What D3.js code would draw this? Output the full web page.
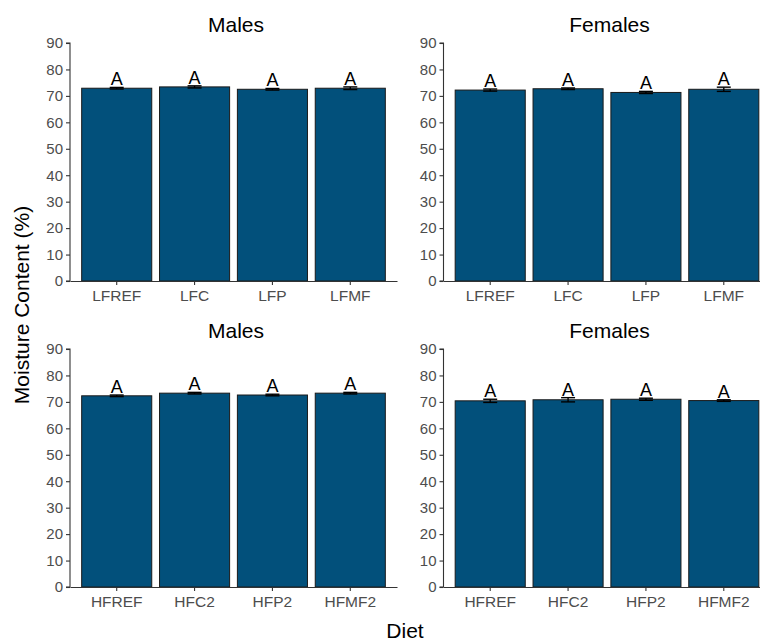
<!DOCTYPE html>
<html>
<head>
<meta charset="utf-8">
<script src="https://cdn.jsdelivr.net/npm/d3@7"></script>
<style>
  html, body { margin: 0; padding: 0; background: #fff; }
  svg { display: block; font-family: "Liberation Sans", Arial, sans-serif; }
</style>
</head>
<body>
<svg id="chart" width="760" height="642"></svg>
<script>
// Diet groups shown in each row of panels
const lowFatDiets  = ["LFREF", "LFC", "LFP", "LFMF"];
const highFatDiets = ["HFREF", "HFC2", "HFP2", "HFMF2"];

// Mean moisture content (%) and standard errors
const maleLowMeans    = [72.9, 73.4, 72.5, 72.9];
const maleLowSE       = [0.3, 0.4, 0.3, 0.5];
const femaleLowMeans  = [72.2, 72.7, 71.3, 72.5];
const femaleLowSE     = [0.4, 0.3, 0.4, 0.8];
const maleHighMeans   = [72.3, 73.3, 72.6, 73.3];
const maleHighSE      = [0.3, 0.3, 0.3, 0.3];
const femaleHighMeans = [70.4, 70.8, 71.0, 70.5];
const femaleHighSE    = [0.6, 0.8, 0.4, 0.3];

// Significance letters
const maleLowLetters    = ["A", "A", "A", "A"];
const femaleLowLetters  = ["A", "A", "A", "A"];
const maleHighLetters   = ["A", "A", "A", "A"];
const femaleHighLetters = ["A", "A", "A", "A"];

const yTicks = [0, 10, 20, 30, 40, 50, 60, 70, 80, 90];
const panelTitles = ["Males", "Females", "Males", "Females"];

const panels = [
  { title: panelTitles[0], diets: lowFatDiets,  means: maleLowMeans,    se: maleLowSE,    letters: maleLowLetters,    left: 70,    top: 43,  bottom: 281 },
  { title: panelTitles[1], diets: lowFatDiets,  means: femaleLowMeans,  se: femaleLowSE,  letters: femaleLowLetters,  left: 443.5, top: 43,  bottom: 281 },
  { title: panelTitles[2], diets: highFatDiets, means: maleHighMeans,   se: maleHighSE,   letters: maleHighLetters,   left: 70,    top: 349, bottom: 587 },
  { title: panelTitles[3], diets: highFatDiets, means: femaleHighMeans, se: femaleHighSE, letters: femaleHighLetters, left: 443.5, top: 349, bottom: 587 }
];

const svg = d3.select("#chart");
const panelWidth = 327;
const barFill = "#02507b";
const tickGrey = "#4d4d4d";

panels.forEach(p => {
  const rows = p.diets.map((d, i) => ({ diet: d, mean: p.means[i], se: p.se[i], letter: p.letters[i] }));

  const x = d3.scaleBand()
    .domain(p.diets)
    .range([p.left, p.left + panelWidth])
    .paddingInner(0.1)
    .paddingOuter(0.15);

  const y = d3.scaleLinear().domain([0, 90]).range([p.bottom, p.top]);

  const g = svg.append("g");

  // bars
  g.selectAll("rect.bar").data(rows).join("rect")
    .attr("class", "bar")
    .attr("x", d => x(d.diet))
    .attr("y", d => y(d.mean))
    .attr("width", x.bandwidth())
    .attr("height", d => y(0) - y(d.mean))
    .attr("fill", barFill)
    .attr("stroke", "#1a1a1a")
    .attr("stroke-width", 1);

  // error bars
  const cap = 7;
  const eb = g.selectAll("g.err").data(rows).join("g").attr("class", "err")
    .attr("stroke", "#000").attr("stroke-width", 1.4).attr("fill", "none");
  eb.append("line")
    .attr("x1", d => x(d.diet) + x.bandwidth() / 2)
    .attr("x2", d => x(d.diet) + x.bandwidth() / 2)
    .attr("y1", d => y(d.mean - d.se))
    .attr("y2", d => y(d.mean + d.se));
  eb.append("line")
    .attr("x1", d => x(d.diet) + x.bandwidth() / 2 - cap)
    .attr("x2", d => x(d.diet) + x.bandwidth() / 2 + cap)
    .attr("y1", d => y(d.mean + d.se))
    .attr("y2", d => y(d.mean + d.se));
  eb.append("line")
    .attr("x1", d => x(d.diet) + x.bandwidth() / 2 - cap)
    .attr("x2", d => x(d.diet) + x.bandwidth() / 2 + cap)
    .attr("y1", d => y(d.mean - d.se))
    .attr("y2", d => y(d.mean - d.se));

  // letters
  g.selectAll("text.letter").data(rows).join("text")
    .attr("class", "letter")
    .attr("x", d => x(d.diet) + x.bandwidth() / 2)
    .attr("y", d => y(d.mean + d.se) - 2)
    .attr("text-anchor", "middle")
    .attr("font-size", 18)
    .attr("fill", "#000")
    .text(d => d.letter);

  // y axis
  const yAxis = g.append("g")
    .attr("transform", `translate(${p.left},0)`)
    .call(d3.axisLeft(y).tickValues(yTicks).tickSize(4).tickPadding(3));
  yAxis.select(".domain").attr("stroke", "#333").attr("stroke-width", 1.1).attr("d", `M-4,${y(90)}H0V${y(0)}H-4`);
  yAxis.selectAll(".tick line").attr("stroke", "#333").attr("stroke-width", 1.1);
  yAxis.selectAll(".tick text").attr("font-size", 15).attr("fill", tickGrey).attr("font-family", "'Liberation Sans', Arial, sans-serif");

  // x axis
  const xAxis = g.append("g")
    .attr("transform", `translate(0,${p.bottom})`)
    .call(d3.axisBottom(x).tickSize(4).tickPadding(5).tickSizeOuter(0));
  xAxis.select(".domain").attr("stroke", "#333").attr("stroke-width", 1.1);
  xAxis.selectAll(".tick line").attr("stroke", "#333").attr("stroke-width", 1.1);
  xAxis.selectAll(".tick text").attr("font-size", 15.5).attr("fill", tickGrey).attr("font-family", "'Liberation Sans', Arial, sans-serif");

  // panel title
  g.append("text")
    .attr("x", p.left + 166)
    .attr("y", p.top - 11)
    .attr("text-anchor", "middle")
    .attr("font-size", 21)
    .attr("fill", "#000")
    .text(p.title);
});

// shared axis titles
svg.append("text")
  .attr("x", 405)
  .attr("y", 638)
  .attr("text-anchor", "middle")
  .attr("font-size", 21)
  .attr("fill", "#000")
  .text("Diet");

svg.append("text")
  .attr("transform", "translate(29,305) rotate(-90)")
  .attr("text-anchor", "middle")
  .attr("font-size", 21)
  .attr("fill", "#000")
  .text("Moisture Content (%)");
</script>
</body>
</html>
